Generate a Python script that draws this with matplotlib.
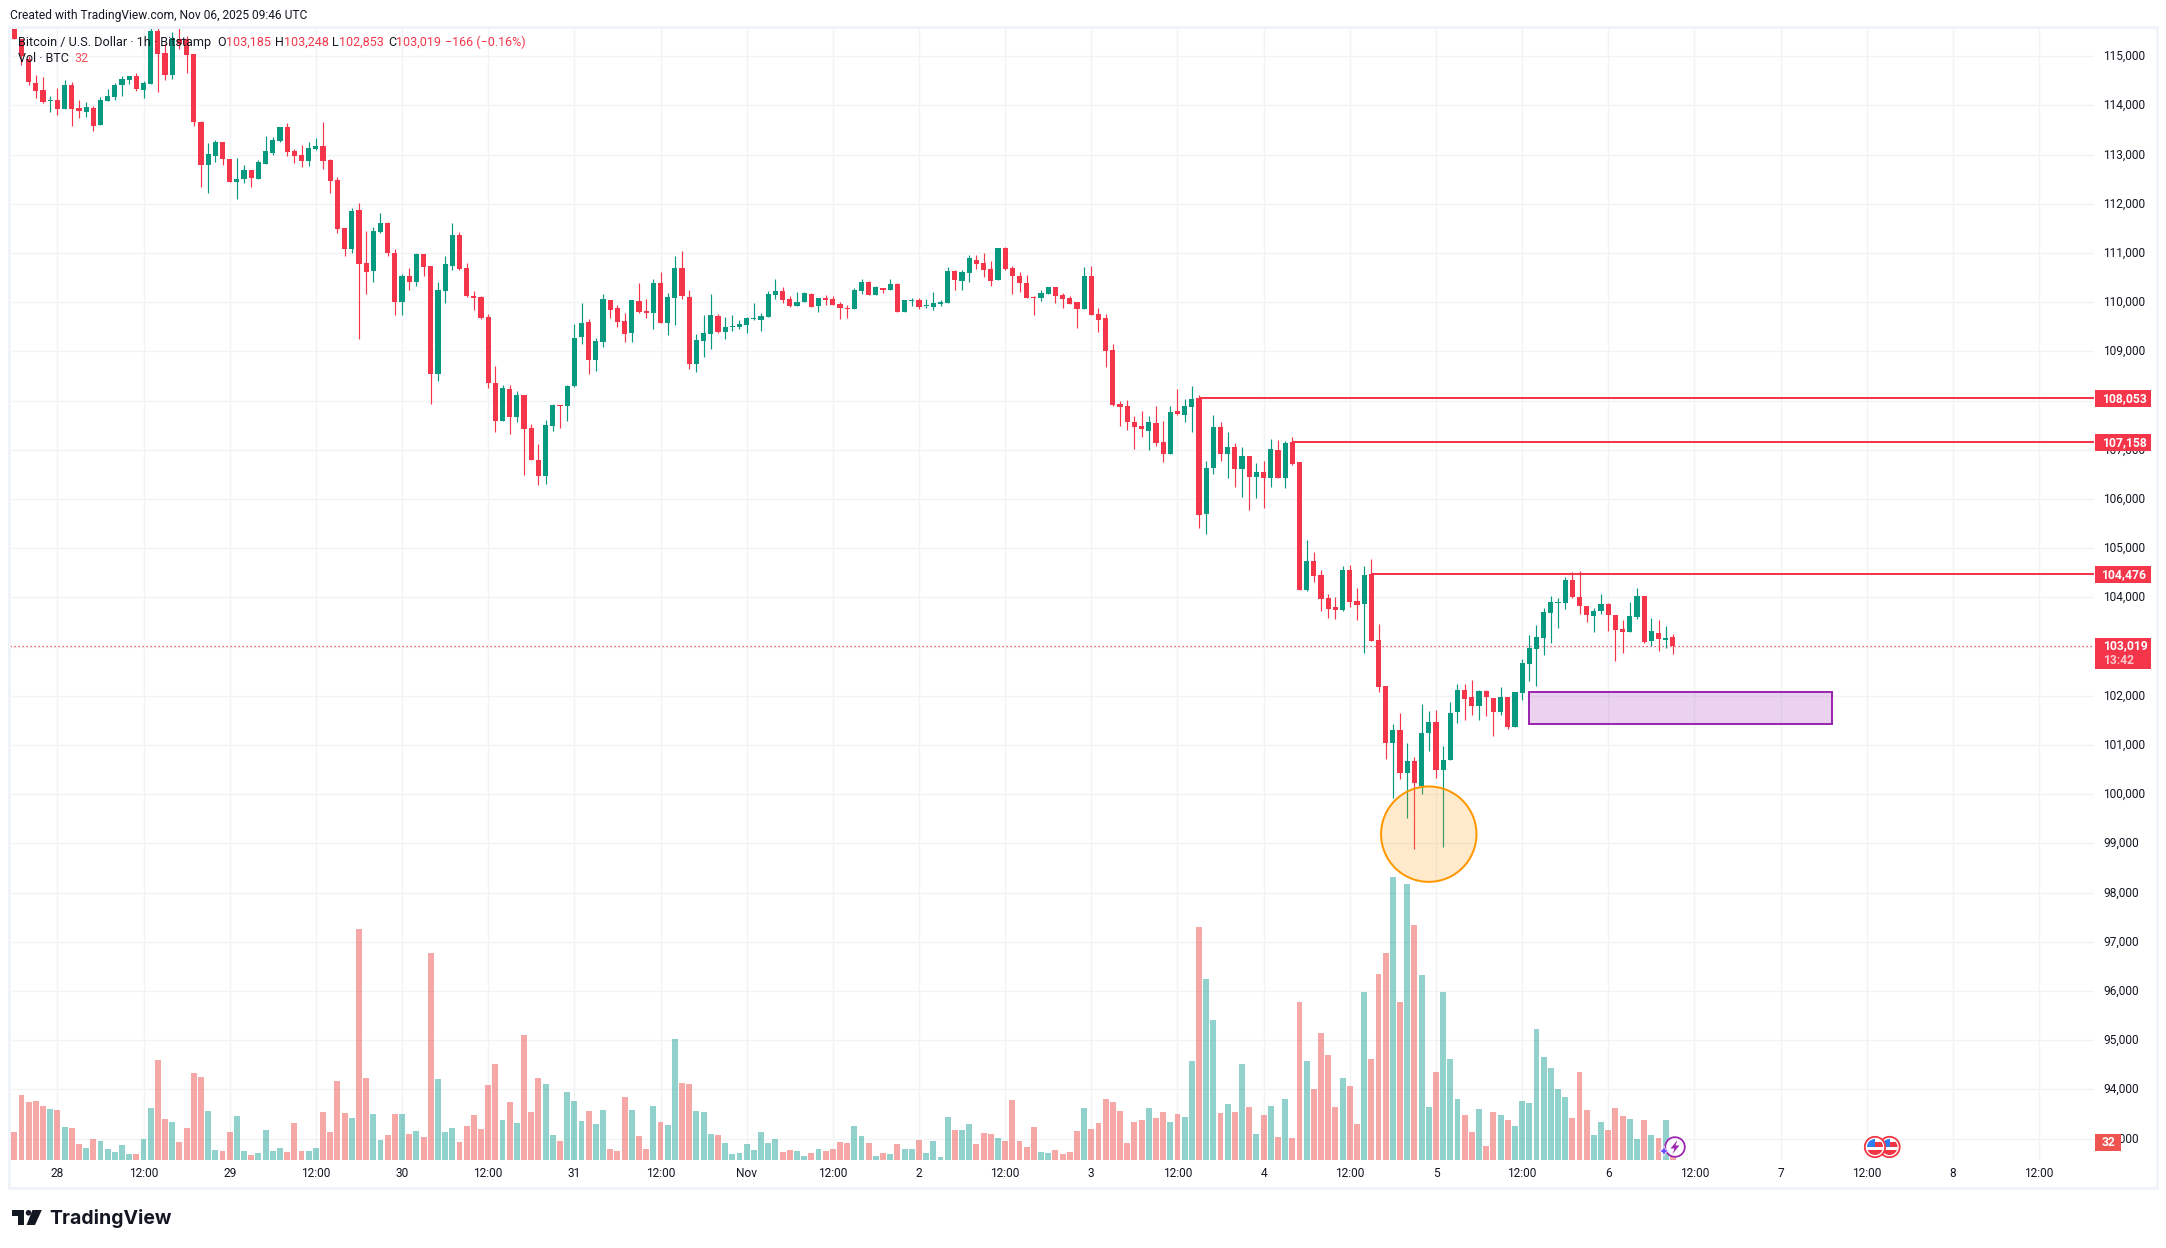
import matplotlib
matplotlib.use("Agg")
import matplotlib.pyplot as plt
from matplotlib.patches import Rectangle, Ellipse, Circle, Polygon
from matplotlib.transforms import ScaledTranslation

opens = [
115700,115354,114939,114456,114313,114095,114109,113926,114415,113946,
113864,113946,113599,114089,114170,114415,114517,114599,114313,114436,
115517,115068,114619,115354,115354,115048,113660,112783,112967,113252,
112906,112436,112498,112681,112498,112803,113028,113273,113558,113069,
112987,112865,113110,113171,112885,112477,111498,111070,111865,110804,
110641,111416,111600,111008,110009,110539,110417,110968,110743,108540,
110233,110743,111355,110702,110131,110111,109703,108356,107581,108234,
107663,108112,107438,106785,106458,107478,107906,107886,108294,109293,
109599,108824,109191,110048,109885,109620,109375,110028,109824,109783,
110395,109579,110089,110701,110109,108742,109212,109354,109722,109395,
109497,109497,109538,109660,109640,109701,110150,110232,110068,109926,
110007,110170,109926,110089,110068,109966,109885,109864,110232,110415,
110150,110293,110252,110374,109803,110028,110048,109926,109905,109966,
109987,110640,110436,110599,110864,110803,110680,110456,111109,110701,
110538,110395,110109,110089,110170,110313,110150,110089,110007,109864,
110538,109762,109681,109028,107926,107886,107559,107478,107376,107539,
107151,106906,107784,107702,107865,108053,105703,106621,107457,106906,
107049,106600,106866,106437,106539,106417,106988,106417,107158,106742,
104151,104742,104457,103988,103804,103743,104559,103926,103865,104476,
103130,102192,101029,101294,100437,100682,100172,101233,101457,100498,
100702,101661,102110,101967,101784,102090,101947,101661,101967,101355,
102049,102640,102946,103171,103681,103885,103885,104354,104007,103824,
103620,103722,103864,103640,103354,103293,103599,104028,103110,103273,
103130,103185]

highs = [
115750,115354,114993,114619,114578,114191,114354,114517,114476,114109,
114068,113987,114170,114334,114456,114599,114599,114660,114497,115600,
115600,115265,115490,115600,115400,115048,113680,113232,113293,113252,
112906,112926,112783,112681,112885,113375,113354,113558,113640,113110,
113191,113252,113334,113660,112906,112538,111498,111906,112008,111437,
111518,111804,111620,111070,110580,110702,110988,110968,110743,110417,
110947,111600,111416,110804,110233,110131,109764,108703,108316,108316,
108193,108112,107520,107112,107600,107921,107906,108314,109558,109987,
109660,109273,110170,110048,109946,109783,110048,110395,110068,110476,
110619,110191,110946,111048,110252,109354,109742,110170,109762,109701,
109742,109640,109701,109987,109783,110232,110476,110313,110130,110211,
110211,110191,110089,110150,110130,110007,109946,110293,110476,110436,
110333,110293,110476,110395,110048,110089,110089,110068,110211,110048,
110721,110660,110660,110966,110966,111007,110837,111109,111129,110742,
110619,110558,110130,110252,110313,110313,110191,110130,110007,110721,
110742,109885,109762,109150,107988,108008,107682,107784,107682,107886,
107580,107886,108232,108028,108294,108110,106764,107702,107559,107355,
107131,107049,106866,106723,106764,107212,107192,107172,107253,106742,
105171,104926,104559,104069,104008,104640,104661,104192,104640,104782,
103456,102192,101416,101641,101029,100764,101824,101682,101702,100968,
101865,102232,102232,102314,102110,102110,101947,102171,101967,102069,
102742,103232,103436,103783,104028,103987,104415,104517,104538,103824,
103783,104068,103884,103640,103538,103905,104191,104028,103579,103538,
103416,103248]

lows = [
115354,114810,114415,114157,114048,113871,113803,113926,113579,113742,
113762,113477,113599,114089,114109,114191,114436,114300,114150,114436,
114272,114517,114537,115150,114660,113579,112334,112212,112844,112783,
112436,112090,112416,112334,112498,112803,112995,113252,112967,112824,
112742,112763,113089,112702,112212,111396,110947,110988,109254,110172,
110417,111396,110947,109744,109744,110254,110335,110539,107928,108397,
109988,110662,110662,110111,109846,109662,108254,107357,107581,107316,
107554,106480,106785,106275,106294,107376,107437,107580,108274,109150,
108538,108600,109089,109681,109497,109191,109191,109783,109681,109456,
109579,109334,109538,110068,108640,108579,108885,109048,109375,109252,
109416,109456,109375,109640,109416,109701,110068,109987,109905,109926,
110007,109905,109803,109946,109946,109660,109681,109864,110170,110150,
110150,110191,110252,109803,109803,109926,109864,109885,109844,109926,
109987,110252,110252,110415,110680,110517,110334,110456,110660,110170,
110211,110089,109742,110028,110170,109987,109885,109966,109477,109864,
109742,109395,108681,107886,107478,107396,107008,107253,106988,107070,
106743,106906,107702,107559,107355,105417,105295,106498,106764,106417,
106233,106029,105784,106009,105825,106233,106417,106213,106682,104151,
104131,104314,103722,103580,103559,103723,103804,103539,102865,103110,
102069,100723,99927,100315,99519,98887,100009,100866,100335,98928,
100702,101437,101498,101600,101498,101580,101172,101600,101314,101355,
101906,102294,102192,102824,103069,103375,103762,103987,103660,103497,
103293,103660,103314,102702,102865,103293,103560,103069,103008,102906,
102967,102853]

closes = [
115354,114993,114483,114293,114075,114110,113926,114415,113926,113885,
113966,113579,114109,114191,114415,114538,114599,114334,114456,115517,
115048,114619,115367,115238,115014,113660,112783,113008,113252,112906,
112436,112498,112681,112518,112844,113069,113293,113558,113048,112967,
112865,113130,113171,112865,112457,111478,111070,111845,110784,110621,
111437,111600,111008,110009,110539,110417,110968,110723,108540,110254,
110784,111355,110682,110131,110090,109682,108356,107581,108254,107663,
108112,107418,106785,106459,107498,107906,107886,108294,109273,109579,
108824,109212,110068,109844,109599,109354,110048,109803,109783,110395,
109579,110109,110701,110130,108742,109232,109375,109742,109395,109497,
109517,109558,109681,109681,109722,110170,110232,110048,109926,110007,
110191,109905,110089,110048,109946,109885,109864,110252,110415,110150,
110313,110252,110374,109803,110048,110048,109905,109946,109987,110007,
110640,110456,110619,110905,110782,110660,110436,111109,110680,110538,
110395,110089,110089,110191,110313,110130,110068,109966,109864,110538,
109742,109640,109008,107906,107865,107559,107457,107416,107559,107131,
106906,107763,107722,107886,108028,105682,106621,107457,106906,107049,
106600,106866,106437,106539,106417,107008,106417,107131,106702,104151,
104742,104436,103967,103763,103743,104559,103906,103845,104457,103110,
102171,101029,101294,100437,100682,100233,101233,101457,100498,100702,
101641,102110,101926,101784,102090,101967,101661,101967,101355,102069,
102661,102967,103191,103701,103905,103905,104354,104007,103824,103640,
103722,103864,103640,103334,103293,103620,104028,103089,103314,103150,
103171,103019]

volumes = [
50,117,104,106,97,92,90,59,58,29,22,38,34,20,14,27,11,11,38,94,
180,74,68,32,58,157,149,88,18,16,50,79,16,9,13,54,16,22,14,67,
16,16,22,86,50,142,85,76,416,148,83,36,45,83,83,47,52,41,373,146,
50,58,32,61,81,56,135,173,72,104,67,225,86,148,137,45,34,122,106,70,
88,65,90,20,16,113,90,43,20,97,68,63,218,139,137,88,86,47,45,
31,11,13,29,18,50,31,38,14,18,16,7,13,20,16,20,32,31,61,43,31,7,13,11,29,20,20,36,13,34,5,
77,54,54,65,29,49,47,40,34,108,34,23,59,14,13,18,11,14,52,94,56,67,110,104,88,31,68,72,94,76,
86,68,83,77,178,419,326,252,85,101,86,173,95,47,81,97,41,110,40,284,178,128,229,189,95,148,133,65,
302,182,335,373,509,284,497,423,333,95,158,
302,182,110,81,50,92,25,86,81,72,61,106,103,236,185,166,128,113,76,158,90,45,68,54,94,79,74,38,72,45,40,72,32]

price_ticks = list(range(93000, 116000, 1000))
axis_labels = ["28","12:00","29","12:00","30","12:00","31","12:00","Nov","12:00","2","12:00",
               "3","12:00","4","12:00","5","12:00","6","12:00","7","12:00","8","12:00"]
level_prices = [108053, 107158, 104476]
level_starts = [165, 178, 189]
last_price = 103019
zone_price = (101416, 102069)
zone_bars = (211, 253.2)
circle_center = (197, 99186)

W, H = 2166, 1248
RED, GREEN = "#f5364a", "#089981"
GRID = "#f2f3f5"
INK = "#131722"
plt.rcParams["font.family"] = ["Roboto", "DejaVu Sans"]

fig = plt.figure(figsize=(W / 100, H / 100), dpi=100, facecolor="white")
L, R, T, B = 10, 2094, 28, 1160
pos = [L / W, 1 - B / H, (R - L) / W, (B - T) / H]
PX_HOUR, X0 = 7.18, 14.3
PX_PRICE = 0.0492
xlim = ((L - X0) / PX_HOUR, (R - X0) / PX_HOUR)
ylim = (104000 + (597.3 - B) / PX_PRICE, 104000 + (597.3 - T) / PX_PRICE)

ax = fig.add_axes(pos)
ax.set_xlim(xlim)
ax.set_ylim(ylim)
for s in ax.spines.values():
    s.set_visible(False)
ax.grid(True, color=GRID, lw=1.0, zorder=0)
ax.set_axisbelow(True)
xt = [6 + 12 * k for k in range(len(axis_labels))]
ax.set_xticks(xt)
ax.set_xticklabels(axis_labels, fontsize=8.6, color=INK)
ax.yaxis.tick_right()
ax.set_yticks(price_ticks)
ax.set_yticklabels([f"{p:,}" for p in price_ticks], fontsize=8.6, color=INK)
ax.tick_params(axis="x", length=0, pad=5.0)
ax.tick_params(axis="y", length=0, pad=6.5)
up = ScaledTranslation(0, 1.2 / 100, fig.dpi_scale_trans)
for lab in ax.get_yticklabels():
    lab.set_transform(lab.get_transform() + up)

idx = list(range(len(opens)))
cols = [GREEN if c >= o else RED for o, c in zip(opens, closes)]
ax.vlines(idx, lows, highs, colors=cols, lw=0.85, zorder=3)
ax.bar(idx, [abs(c - o) for o, c in zip(opens, closes)], bottom=[min(o, c) for o, c in zip(opens, closes)],
       width=0.72, color=cols, lw=0, zorder=4)

ax.axhline(last_price, color=RED, lw=0.9, ls=(0, (1, 2.2)), zorder=2)
for p, s in zip(level_prices, level_starts):
    ax.hlines(p, s, xlim[1], color=RED, lw=1.45, zorder=5)
ax.add_patch(Rectangle((zone_bars[0], zone_price[0]), zone_bars[1] - zone_bars[0], zone_price[1] - zone_price[0],
                       facecolor=(0.612, 0.153, 0.69, 0.2), edgecolor="#9c27b0", lw=1.45, zorder=5))
ax.add_patch(Ellipse(circle_center, 2 * 47.7 / PX_HOUR, 2 * 47.7 / PX_PRICE,
                     facecolor=(1, 0.596, 0, 0.2), edgecolor="#ff9800", lw=1.45, zorder=6))

axv = fig.add_axes(pos)
axv.patch.set_visible(False)
axv.axis("off")
axv.set_xlim(xlim)
axv.set_ylim(0, (B - T) * 1.8)
vcols = ["#26a69a" if c >= o else "#ef5350" for o, c in zip(opens, closes)]
axv.bar(idx, volumes, width=0.82, color=vcols, alpha=0.5, lw=0)

ov = fig.add_axes([0, 0, 1, 1])
ov.patch.set_visible(False)
ov.axis("off")
ov.set_xlim(0, W)
ov.set_ylim(H, 0)

ov.add_patch(Rectangle((8.5, 26.5), 2148, 1161, fill=False, edgecolor="#f0f3fa", lw=2.1))


def tag(y0, y1, txt, x1=2151, color=RED, size=8.7):
    ov.add_patch(Rectangle((2095, y0), x1 - 2095, y1 - y0, facecolor=color, edgecolor="none"))
    ov.text(2124 if x1 > 2130 else (2095 + x1) / 2, (y0 + y1) / 2, txt, color="white", fontsize=size,
            ha="center", va="center", weight="bold")


tag(390, 406.7, "108,053")
tag(434, 450.7, "107,158")
tag(566, 582.7, "104,476")
ov.add_patch(Rectangle((2095, 638), 56, 31, facecolor=RED, edgecolor="none"))
ov.text(2103, 646, "103,019", color="white", fontsize=8.7, va="center", weight="bold")
ov.text(2103, 660, "13:42", color="#fbc6cc", fontsize=8.7, va="center", weight="bold")
tag(1134, 1150.7, "32", x1=2121, color="#ef5350")

ov.text(10, 15.5, "Created with TradingView.com, Nov 06, 2025 09:46 UTC", fontsize=8.65, color=INK, va="center")
ov.text(18, 42.5, "Bitcoin / U.S. Dollar · 1h · Bitstamp", fontsize=9.05, color=INK, va="center")
for x, t, c in [(217, "O", INK), (226, "103,185", RED), (275, "H", INK), (284, "103,248", RED),
                (332, "L", INK), (339, "102,853", RED), (388, "C", INK), (396, "103,019", RED),
                (445, "−166 (−0.16%)", RED)]:
    ov.text(x, 42.5, t, fontsize=9.0, color=c, va="center")
ov.text(18, 59, "Vol · BTC", fontsize=9.0, color=INK, va="center")
ov.text(74, 59, "32", fontsize=9.0, color="#f7525f", va="center")

# TradingView mark and wordmark
LOGO = "#131722"
ov.add_patch(Polygon([(12, 1210), (24, 1210), (24, 1225), (18.3, 1225), (18.3, 1215.5), (12, 1215.5)], fc=LOGO, ec="none"))
ov.add_patch(Circle((28.5, 1212.8), 2.8, fc=LOGO, ec="none"))
ov.add_patch(Polygon([(32.5, 1210), (41.8, 1210), (35, 1225), (26.5, 1225)], fc=LOGO, ec="none"))
ov.text(49, 1218, "TradingView", fontsize=14, family="Inter", weight="bold", color=LOGO, va="center")


def flag(cx, cy):
    ov.add_patch(Circle((cx, cy), 10.2, fc="white", ec="#f23645", lw=1.3))
    clip = Circle((cx, cy), 8, transform=ov.transData)
    for y0, h0, c, x0, w0 in [(-5, 5, "#f23645", 0, 9), (2.5, 6, "#f23645", -9, 18), (-8, 8, "#2f7df0", -8, 8)]:
        r = Rectangle((cx + x0, cy + y0), w0, h0, fc=c, ec="none")
        ov.add_patch(r)
        r.set_clip_path(clip)


flag(1889.5, 1147)
flag(1875, 1147)

ov.add_patch(Circle((1675, 1147), 9.8, fc="white", ec="#9c27b0", lw=1.3))
ov.add_patch(Polygon([(1677.5, 1140), (1670.5, 1148.5), (1674.5, 1148.5), (1672.5, 1154), (1679.5, 1145.5), (1675.5, 1145.5)],
                     fc="#9c27b0", ec="none"))
ov.add_patch(Polygon([(1664, 1146), (1665.5, 1149.5), (1669, 1151), (1665.5, 1152.5), (1664, 1156), (1662.5, 1152.5), (1659, 1151), (1662.5, 1149.5)],
                     fc="#6e44ff", ec="white", lw=0.5))

fig.savefig("out.png", dpi=100, facecolor="white")
